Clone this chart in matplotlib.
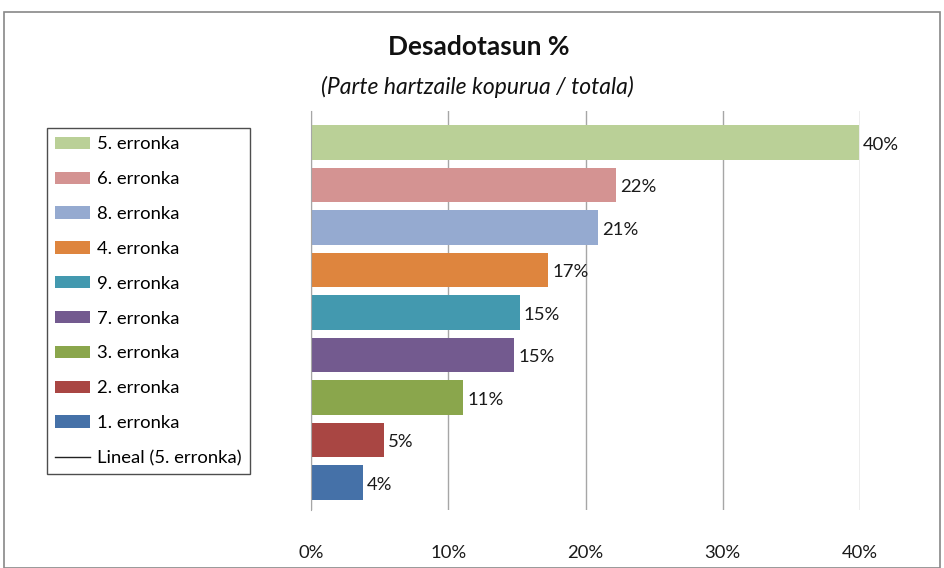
import matplotlib
matplotlib.use("Agg")
import matplotlib.pyplot as plt
from matplotlib.patches import Patch, Rectangle
from matplotlib.lines import Line2D

plt.rcParams['font.family'] = ['Lato', 'DejaVu Sans']

categories = ["5. erronka", "6. erronka", "8. erronka", "4. erronka", "9. erronka",
              "7. erronka", "3. erronka", "2. erronka", "1. erronka"]
values = [39.9, 22.2, 20.9, 17.3, 15.2, 14.8, 11.1, 5.3, 3.8]
labels = ["40%", "22%", "21%", "17%", "15%", "15%", "11%", "5%", "4%"]
colors = ["#BAD097", "#D49392", "#95AAD0", "#DE853E", "#4399AF",
          "#735A8F", "#8AA64C", "#A94643", "#4571A8"]
xticks = [0, 10, 20, 30, 40]
xticklabels = ["0%", "10%", "20%", "30%", "40%"]

W, H = 945, 568
fig = plt.figure(figsize=(W/100, H/100), dpi=100)
ax = fig.add_axes([311/W, 1-510/H, (860-311)/W, (510-111)/H])

FS = 13.3
n = len(categories)
ypos = [n-1-i for i in range(n)]
ax.barh(ypos, values, height=0.81, color=colors, zorder=3)
for y, v, l in zip(ypos, values, labels):
    ax.text(v + 0.3, y - 0.05, l, va='center', ha='left', fontsize=FS, color='#1a1a1a')

ax.set_xlim(0, 40)
ax.set_ylim(-0.647, 8.74)
ax.set_xticks(xticks)
ax.set_xticklabels(xticklabels, fontsize=FS, color='#1a1a1a')
ax.set_yticks([])
ax.tick_params(axis='x', length=0, pad=25)
ax.xaxis.grid(True, color='#A6A6A6', linewidth=1.0, zorder=0)
for s in ['top', 'right', 'bottom']:
    ax.spines[s].set_visible(False)
ax.spines['left'].set_color('#A6A6A6')
ax.spines['left'].set_zorder(4)

fig.text(479/W, 1-47/H, "Desadotasun %", ha='center', va='center',
         fontsize=19, fontweight='bold', color='#111111')
fig.text(477/W, 1-87/H, "(Parte hartzaile kopurua / totala)", ha='center', va='center',
         fontsize=16.5, style='italic', color='#111111')

handles = [Patch(facecolor=c, edgecolor='none') for c in colors]
handles.append(Line2D([0], [0], color='#222222', linewidth=1))
leg_labels = categories + ["Lineal (5. erronka)"]
leg = fig.legend(handles, leg_labels, loc='upper left',
                 bbox_to_anchor=(47/W, 1-128/H), fontsize=FS,
                 frameon=True, fancybox=False, edgecolor='#222222',
                 handlelength=1.9, handleheight=0.65, handletextpad=0.35,
                 labelspacing=1.02, borderpad=0.45, borderaxespad=0)
leg.get_frame().set_linewidth(1.0)

fig.patches.append(Rectangle((4/W, 0), (940-4)/W, 1-12/H, transform=fig.transFigure,
                             fill=False, edgecolor='#888888', linewidth=1.2))

fig.savefig("out.png", dpi=100)
